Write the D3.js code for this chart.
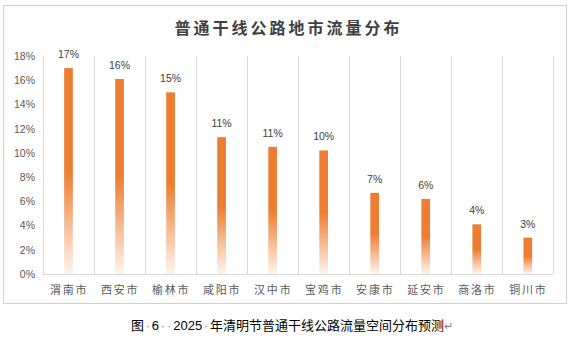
<!DOCTYPE html>
<html><head><meta charset="utf-8">
<script src="https://cdn.jsdelivr.net/npm/d3@7"></script>
<style>body{margin:0;background:#fff}svg{display:block}</style>
</head><body>
<svg id="c" width="572" height="338"></svg>
<script>
const categories = ["渭南市","西安市","榆林市","咸阳市","汉中市","宝鸡市","安康市","延安市","商洛市","铜川市"];
const values = [17.0, 16.1, 15.0, 11.3, 10.5, 10.2, 6.7, 6.2, 4.1, 3.0];
const valueLabels = ["17%","16%","15%","11%","11%","10%","7%","6%","4%","3%"];
const yTicks = [0,2,4,6,8,10,12,14,16,18];
const title = "普通干线公路地市流量分布";
const captionParts = [["图",0],["·",1],["6",0],["··",1],["2025",0],["·",1],["年清明节普通干线公路流量空间分布预测",0],["↵",2]];

(function(){
const svg = d3.select("#c");
const pL = 42.7, pR = 553, pT = 56, pB = 274;

// frame
svg.append("rect").attr("x",3.5).attr("y",5.5).attr("width",563).attr("height",298)
  .attr("fill","#fff").attr("stroke","#d0d0d0").attr("stroke-width",1);

const x = d3.scaleBand().domain(categories).range([pL,pR]).padding(0);
const y = d3.scaleLinear().domain([0,18]).range([pB,pT]);

const defs = svg.append("defs");
const g = defs.append("linearGradient").attr("id","bg").attr("x1",0).attr("y1",0).attr("x2",0).attr("y2",1);
g.append("stop").attr("offset","0%").attr("stop-color","#ED7D31").attr("stop-opacity",1);
g.append("stop").attr("offset","50%").attr("stop-color","#ED7D31").attr("stop-opacity",1);
g.append("stop").attr("offset","100%").attr("stop-color","#ED7D31").attr("stop-opacity",0.08);

// vertical gridlines (category separators)
const seps = categories.map(c=>x(c)).concat([pR]);
svg.append("g").selectAll("line").data(seps).join("line")
  .attr("x1",d=>Math.round(d)+0.5).attr("x2",d=>Math.round(d)+0.5)
  .attr("y1",pT).attr("y2",pB)
  .attr("stroke","#d9d9d9").attr("stroke-width",1);

// y axis labels
const yAxis = d3.axisLeft(y).tickValues(yTicks).tickFormat(d=>d+"%").tickSize(0).tickPadding(0);
const ya = svg.append("g").attr("transform","translate(35,0)").call(yAxis);
ya.select(".domain").remove();
ya.selectAll("text").attr("font-family","Liberation Sans, Arial, sans-serif").attr("font-size","10.5px").attr("fill","#595959");

// bars
const bw = 8.7;
svg.append("g").selectAll("rect").data(values).join("rect")
  .attr("x",(d,i)=>x(categories[i])+x.bandwidth()/2-bw/2+0.3)
  .attr("width",bw)
  .attr("y",d=>y(d))
  .attr("height",d=>y(0)-y(d))
  .attr("fill","url(#bg)");

// bottom axis
const xAxis = d3.axisBottom(x).tickSize(0).tickPadding(0);
const xa = svg.append("g").attr("transform",`translate(0,${pB})`).call(xAxis);
xa.select(".domain").attr("stroke","#d9d9d9").attr("d",`M${pL},0.5H${pR}`);
xa.selectAll("text").attr("y",20).attr("dy",0)
  .attr("font-family","Noto Sans CJK SC, sans-serif").attr("font-size","11px")
  .attr("letter-spacing","1.8px").attr("fill","#595959")
  .attr("text-anchor","middle").attr("dx","0.9px");

// data labels
svg.append("g").selectAll("text").data(values).join("text")
  .attr("x",(d,i)=>x(categories[i])+x.bandwidth()/2+0.3)
  .attr("y",d=>y(d)-10)
  .attr("text-anchor","middle")
  .attr("font-family","Liberation Sans, Arial, sans-serif").attr("font-size","10.5px")
  .attr("fill","#404040")
  .text((d,i)=>valueLabels[i]);

// title
svg.append("text").attr("x",287).attr("y",33.5).attr("text-anchor","middle")
  .attr("font-family","Noto Sans CJK SC, sans-serif").attr("font-size","16px").attr("font-weight","bold")
  .attr("letter-spacing","3px").attr("fill","#404040").attr("dx","1.5px")
  .text(title);

// caption
const cap = svg.append("text").attr("x",131).attr("y",330)
  .attr("font-family","Noto Sans CJK SC, sans-serif").attr("font-size","13px").attr("fill","#000");
captionParts.forEach(([t,k])=>{
  const ts = cap.append("tspan").text(t).attr("fill", k===0?"#000":(k===1?"#8a8a8a":"#7a7aa0"));
  if (k===1) ts.attr("font-family","Liberation Sans, Arial, sans-serif").attr("font-size","13px")
               .attr("dx","1.5").attr("letter-spacing","2px");
  if (k===2) ts.attr("font-size","11px");
  if (k===0 && /^[0-9]+$/.test(t)) ts.attr("font-family","Liberation Sans, Arial, sans-serif");
});
})();
</script>
</body></html>
